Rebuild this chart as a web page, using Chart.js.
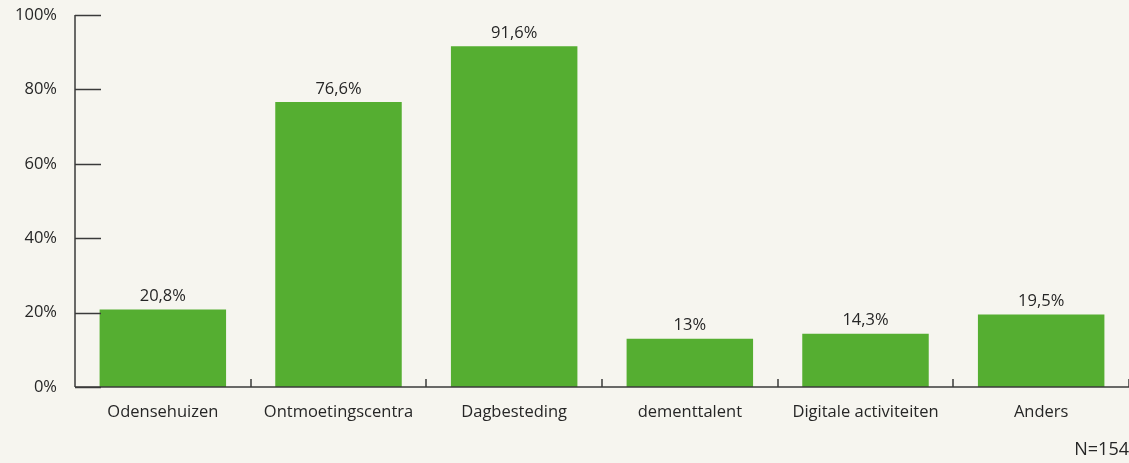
<!DOCTYPE html>
<html>
<head>
<meta charset="utf-8">
<script src="https://cdn.jsdelivr.net/npm/chart.js@4"></script>
<style>
  html, body { margin: 0; padding: 0; background: #f6f5ef; }
  .wrap { width: 1129px; height: 463px; position: relative; }
</style>
</head>
<body>
<div class="wrap"><canvas id="chart"></canvas></div>
<script>
const categories = ['Odensehuizen', 'Ontmoetingscentra', 'Dagbesteding', 'dementtalent', 'Digitale activiteiten', 'Anders'];
const percentages = [20.8, 76.6, 91.6, 13, 14.3, 19.5];
const yTicks = [0, 20, 40, 60, 80, 100];
const note = 'N=154';

const FONT = '"Open Sans", "Noto Sans", sans-serif';
const INK = '#262626';
const AXIS = '#3a3a3a';

function fmt(v) {
  return String(v).replace('.', ',') + '%';
}

// ticks, value labels and the N note
const extras = {
  id: 'extras',
  afterDraw(chart) {
    const ctx = chart.ctx;
    const area = chart.chartArea;
    const x = chart.scales.x;
    const y = chart.scales.y;
    ctx.save();
    ctx.strokeStyle = AXIS;
    ctx.lineWidth = 1.5;
    // y-axis line
    ctx.beginPath();
    ctx.moveTo(area.left, area.top);
    ctx.lineTo(area.left, area.bottom);
    ctx.stroke();
    // x-axis line
    ctx.beginPath();
    ctx.moveTo(area.left, area.bottom);
    ctx.lineTo(area.right, area.bottom);
    ctx.stroke();
    // y ticks pointing into the plot
    yTicks.forEach(t => {
      const py = Math.round(y.getPixelForValue(t)) + 0.5;
      ctx.beginPath();
      ctx.moveTo(area.left, py);
      ctx.lineTo(area.left + 26, py);
      ctx.stroke();
    });
    // category separators
    for (let i = 0; i < categories.length; i++) {
      const px = Math.round((x.getPixelForValue(i) + x.getPixelForValue(i + 1)) / 2);
      ctx.beginPath();
      ctx.moveTo(px, area.bottom);
      ctx.lineTo(px, area.bottom - 8);
      ctx.stroke();
    }
    // value labels
    ctx.fillStyle = INK;
    ctx.font = '16.5px ' + FONT;
    ctx.textAlign = 'center';
    ctx.textBaseline = 'bottom';
    const meta = chart.getDatasetMeta(0);
    meta.data.forEach((bar, i) => {
      ctx.fillText(fmt(percentages[i]), bar.x, bar.y - 5);
    });
    // N note
    ctx.font = '18px ' + FONT;
    ctx.textAlign = 'right';
    ctx.textBaseline = 'middle';
    ctx.fillText(note, chart.width, 450);
    ctx.restore();
  }
};

new Chart(document.getElementById('chart').getContext('2d'), {
  type: 'bar',
  data: {
    labels: categories,
    datasets: [{
      data: percentages,
      backgroundColor: '#55ae31',
      categoryPercentage: 0.72,
      barPercentage: 1.0
    }]
  },
  options: {
    responsive: true,
    maintainAspectRatio: false,
    animation: false,
    layout: { padding: { top: 15, right: 0, left: 0, bottom: 0 } },
    plugins: {
      legend: { display: false },
      tooltip: { enabled: false }
    },
    scales: {
      x: {
        border: { display: false },
        grid: { display: false, drawTicks: false },
        ticks: {
          color: INK,
          font: { family: FONT, size: 16.5 },
          padding: 15,
          maxRotation: 0
        },
        afterFit(scale) { scale.height = 76; }
      },
      y: {
        min: 0,
        max: 100,
        border: { display: false },
        grid: { display: false, drawTicks: false },
        afterBuildTicks(scale) { scale.ticks = yTicks.map(v => ({ value: v })); },
        ticks: {
          color: INK,
          font: { family: FONT, size: 16.5 },
          padding: 18,
          callback: v => v + '%'
        },
        afterFit(scale) {
          scale.width = 75;
          scale.paddingTop = 0;
          scale.paddingBottom = 0;
        }
      }
    }
  },
  plugins: [extras]
});
</script>
</body>
</html>
